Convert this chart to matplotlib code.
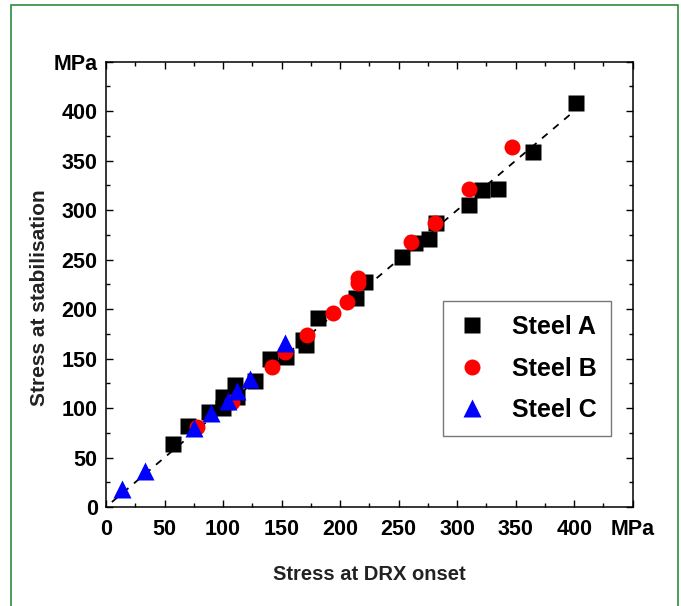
import matplotlib
matplotlib.use("Agg")
import matplotlib.pyplot as plt
from matplotlib.patches import Rectangle
from matplotlib.ticker import MultipleLocator

plt.rcParams['font.family'] = ['Liberation Sans', 'DejaVu Sans']

# stress at DRX onset (x) vs stress at stabilisation (y), MPa
steel_a_x = [57, 70, 88, 100, 100, 110, 112, 127, 140, 154, 168, 171, 181, 214, 221,
             253, 264, 276, 282, 310, 321, 335, 365, 402]
steel_a_y = [64, 82, 96, 100, 111, 123, 111, 127, 150, 152, 169, 164, 191, 211, 227,
             253, 267, 271, 287, 305, 320, 321, 359, 408]

steel_b_x = [78, 108, 142, 153, 172, 194, 206, 215, 215, 261, 281, 310, 347]
steel_b_y = [81, 106, 141, 157, 174, 196, 207, 226, 231, 268, 287, 321, 364]

steel_c_x = [14, 33, 75, 90, 104, 112, 123, 153]
steel_c_y = [18, 36, 80, 95, 107, 117, 129, 166]

tick_vals = [0, 50, 100, 150, 200, 250, 300, 350, 400, 450]
tick_labels = ['0', '50', '100', '150', '200', '250', '300', '350', '400', 'MPa']
fit_line = [5, 400]

fig = plt.figure(figsize=(6.81, 6.06), dpi=100)
ax = fig.add_axes([0.1557, 0.1634, 0.7733, 0.7348])

ax.plot(fit_line, fit_line, color='black', ls=(0, (4, 4)), lw=1.3, zorder=1)
ax.plot(steel_a_x, steel_a_y, 's', color='black', ms=11, mec='none', label='Steel A', zorder=2)
ax.plot(steel_b_x, steel_b_y, 'o', color='red', ms=11.5, mec='none', label='Steel B', zorder=3)
ax.plot(steel_c_x, steel_c_y, '^', color='blue', ms=12.5, mec='none', label='Steel C', zorder=4)

ax.set_xlim(0, 450)
ax.set_ylim(0, 450)
ax.set_xticks(tick_vals)
ax.set_xticklabels(tick_labels)
ax.set_yticks(tick_vals)
ax.set_yticklabels(tick_labels)
ax.xaxis.set_minor_locator(MultipleLocator(25))
ax.yaxis.set_minor_locator(MultipleLocator(25))
ax.tick_params(which='both', direction='in', top=True, right=True, width=1)
ax.tick_params(which='major', length=5)
ax.tick_params(which='minor', length=3)
ax.tick_params(axis='x', which='major', pad=9)
ax.tick_params(axis='y', which='major', pad=6)
for lab in ax.get_xticklabels() + ax.get_yticklabels():
    lab.set_fontsize(15.5)
    lab.set_fontweight('bold')
for sp in ax.spines.values():
    sp.set_linewidth(1.1)

ax.set_xlabel('Stress at DRX onset', fontsize=14.5, fontweight='bold', color='#222222', labelpad=18)
ax.set_ylabel('Stress at stabilisation', fontsize=15, fontweight='bold', color='#222222')
ax.yaxis.set_label_coords(-0.108, 0.47)

leg = ax.legend(loc='lower left', bbox_to_anchor=(0.640, 0.159), borderaxespad=0,
                prop={'weight': 'bold', 'size': 18}, frameon=True, fancybox=False,
                borderpad=0.56, handlelength=1.2, handletextpad=1.0, labelspacing=0.7,
                numpoints=1)
leg.get_frame().set_edgecolor('#555555')
leg.get_frame().set_linewidth(1.0)

# green outer frame, open at the bottom
fig.patches.append(Rectangle((11 / 681, -0.05), (678 - 11) / 681, 1.05 - 5 / 606,
                             transform=fig.transFigure, fill=False,
                             edgecolor='#2e8b3e', lw=1.2))

fig.savefig('out.png', dpi=100)
